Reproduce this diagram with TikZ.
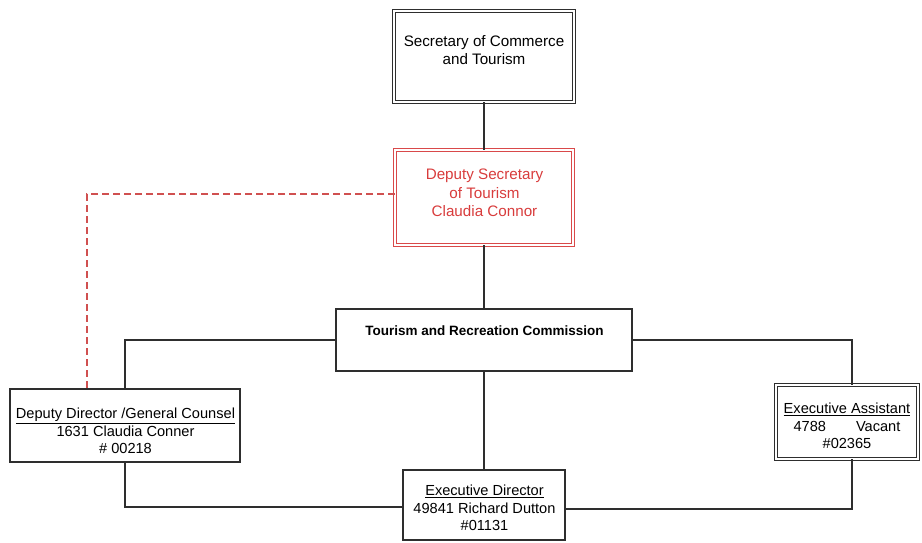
\documentclass[tikz,border=0pt]{standalone}
\usepackage{fontspec}
\setmainfont{Liberation Sans}
\usetikzlibrary{calc}
\definecolor{linegray}{HTML}{2E2E2E}
\definecolor{boxred}{HTML}{D9494A}
\definecolor{textred}{HTML}{D83C3C}
\definecolor{dashred}{HTML}{D05050}
\tikzset{
  x=1pt, y=1pt,
  boxsingle/.style={draw=linegray, line width=1.8pt, rectangle, inner sep=0pt, outer sep=0pt, fill=white},
  boxdouble/.style={draw=linegray, line width=1.1pt, double=white, double distance=1.2pt, rectangle, inner sep=0pt, outer sep=0pt},
  boxreddouble/.style={draw=boxred, line width=1.1pt, double=white, double distance=1.2pt, rectangle, inner sep=0pt, outer sep=0pt},
  lbl/.style={align=center, font=\fontsize{14.6}{17.5}\selectfont, inner sep=0pt},
  conn/.style={draw=linegray, line width=1.8pt},
  dashconn/.style={draw=dashred, line width=1.8pt, dash pattern=on 7pt off 4pt}
}
\begin{document}
\begin{tikzpicture}
\useasboundingbox (0,0) rectangle (922,-542);
% boxes
\node[boxdouble, minimum width=180pt, minimum height=91pt] (sec) at (484,-56.5) {};
\node[boxreddouble, minimum width=178pt, minimum height=95pt] (dep) at (484,-197.5) {};
\node[boxsingle, minimum width=296pt, minimum height=62pt] (com) at (484,-340) {};
\node[boxsingle, minimum width=230pt, minimum height=73pt] (dd) at (125,-425.5) {};
\node[boxdouble, minimum width=142pt, minimum height=74pt] (ea) at (847,-422) {};
\node[boxsingle, minimum width=162pt, minimum height=70pt] (ed) at (484,-505) {};
% texts
\node[lbl, font=\fontsize{15.2}{17.5}\selectfont] (sect) at (484,-50) {Secretary of Commerce\\and Tourism};
\node[lbl, text=textred, font=\fontsize{15.2}{18.5}\selectfont] (dept) at (484.5,-193) {Deputy Secretary\\of Tourism\\Claudia Connor};
\node[lbl, font=\fontsize{13.5}{16}\selectfont\bfseries] (comt) at (484.5,-331) {Tourism and Recreation Commission};
\node[lbl] (ddt) at (125.5,-431) {\underline{Deputy Director /General Counsel}\\1631 Claudia Conner\\\# 00218};
\node[lbl] (eat) at (847,-426) {\underline{Executive Assistant}\\4788\hspace{30pt}Vacant\\\#02365};
\node[lbl] (edt) at (484.5,-508) {\underline{Executive Director}\\49841 Richard Dutton\\\#01131};
% connectors
\draw[conn] (sec.south) -- (dep.north);
\draw[conn] (dep.south) -- (com.north);
\draw[conn] (com.west) -| (dd.north);
\draw[conn] (com.east) -| ([xshift=5pt]ea.north);
\draw[conn] (com.south) -- (ed.north);
\draw[conn] (dd.south) |- ([yshift=-2pt]ed.west);
\draw[conn] ([yshift=-4pt]ed.east) -| ([xshift=5pt]ea.south);
\draw[dashconn] ([yshift=3.5pt]dep.west) -| ([xshift=-38pt]dd.north);
\end{tikzpicture}
\end{document}
